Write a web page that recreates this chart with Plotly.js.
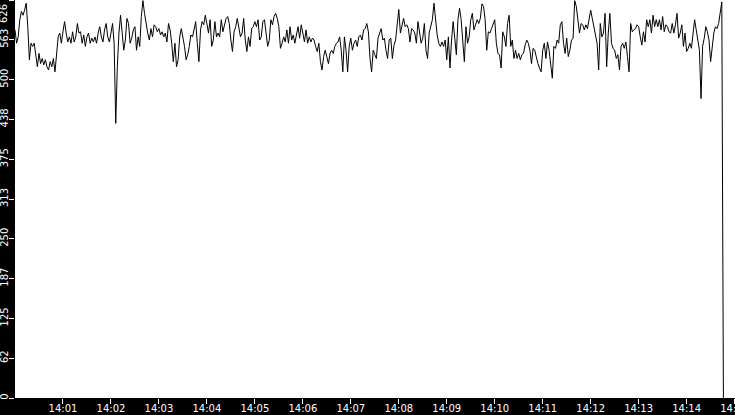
<!DOCTYPE html>
<html>
<head>
<meta charset="utf-8">
<script src="https://cdn.plot.ly/plotly-3.0.1.min.js"></script>
<style>
  html, body { margin: 0; padding: 0; background: #000; }
  #chart { width: 735px; height: 415px; }
</style>
</head>
<body>
<div id="chart"></div>
<script>
// one reading every 2 seconds, starting 14:00:00
const block1400 = [
  579, 558, 568, 595, 608, 602, 610, 621, 584, 532,
  558, 553, 558, 537, 521, 542, 526, 534, 524, 532,
  521, 516, 529, 521, 534, 513, 537, 568, 574, 558,
  576, 592, 574, 560, 568, 558, 576, 560, 568, 589,
  574, 576, 558, 571, 553, 568, 574, 558, 566, 560,
  568, 558, 574, 584, 568, 560, 579, 589, 568, 560,
  574, 589, 558, 432, 521, 574, 602, 579, 547, 563,
  597, 589, 558, 566, 579,
];
// from 14:02:30
const block1402 = [
  584, 547, 568, 553, 600, 625, 605, 587, 574, 563,
  581, 568, 587, 584, 576, 581, 571, 576, 568, 574,
  560, 589, 579, 558, 529, 558, 521, 532, 568, 581,
  568, 553, 532, 540, 553, 571, 568, 579, 592, 558,
  529, 579, 592, 587, 602, 589, 574, 595, 553, 563,
  592, 568, 574, 568, 595, 576, 589, 597, 600, 589,
  563, 545, 576, 584, 597, 581, 568, 574, 597, 563,
  545, 568, 553, 581, 584,
];
// from 14:05:00
const block1405 = [
  592, 584, 595, 563, 568, 592, 595, 568, 553, 563,
  595, 587, 600, 605, 597, 584, 550, 558, 568, 560,
  579, 558, 584, 563, 571, 558, 574, 584, 566, 587,
  574, 560, 579, 558, 568, 560, 566, 563, 553, 545,
  558, 529, 516, 537, 547, 537, 526, 542, 547, 542,
  553, 558, 560, 568, 547, 513, 568, 547, 513, 553,
  566, 547, 558, 563, 553, 568, 571, 563, 579, 581,
  589, 576, 534, 513, 547,
];
// from 14:07:30
const block1407 = [
  540, 534, 566, 574, 581, 563, 566, 547, 534, 563,
  566, 534, 555, 563, 589, 611, 574, 589, 597, 584,
  587, 581, 560, 581, 579, 574, 558, 592, 574, 558,
  566, 589, 547, 534, 574, 584, 595, 621, 589, 571,
  558, 553, 560, 553, 563, 532, 568, 519, 563, 592,
  566, 540, 595, 613, 595, 568, 529, 584, 558, 568,
  595, 605, 579, 587, 595, 589, 597, 620, 616, 595,
  547, 576, 574, 581, 587,
];
// from 14:10:00
const block1410 = [
  595, 558, 542, 540, 519, 576, 568, 553, 589, 602,
  553, 563, 534, 547, 534, 542, 532, 540, 542, 555,
  563, 558, 547, 526, 550, 547, 534, 526, 519, 513,
  547, 558, 534, 560, 547, 521, 503, 553, 550, 563,
  558, 587, 592, 558, 542, 566, 537, 547, 563, 566,
  625, 616, 595, 574, 589, 587, 579, 587, 581, 595,
  610, 597, 584, 568, 558, 516, 589, 568, 574, 605,
  521, 574, 605, 558, 550,
];
// from 14:12:30 until the feed stops
const block1412 = [
  547, 534, 540, 516, 553, 558, 550, 560, 537, 513,
  589, 576, 579, 581, 587, 584, 568, 555, 576, 560,
  595, 584, 595, 574, 602, 584, 595, 584, 595, 579,
  600, 576, 587, 584, 576, 574, 589, 574, 587, 605,
  566, 574, 587, 553, 574, 545, 550, 558, 550, 574,
  595, 579, 566, 547, 471, 553, 566, 584, 576, 563,
  529, 558, 574, 584, 581, 589, 605, 623, 0,
];

const yTickVals = [0, 62.6, 125.2, 187.8, 250.4, 313, 375.6, 438.2, 500.8, 563.4, 626];
const yTickText = ["0", "62", "125", "187", "250", "313", "375", "438", "500", "563", "626"];
const xTickMinutes = ["01", "02", "03", "04", "05", "06", "07", "08", "09", "10", "11", "12", "13", "14", "15"];

const day = "2024-01-01";
const values = [].concat(block1400, block1402, block1405, block1407, block1410, block1412);

function stamp(sec) {
  const m = String(Math.floor(sec / 60)).padStart(2, "0");
  const s = String(sec % 60).padStart(2, "0");
  return `${day} 14:${m}:${s}`;
}

const times = values.map((v, i) => stamp(i * 2));
const tickFont = { family: "DejaVu Sans", size: 10, color: "#ffffff" };

Plotly.newPlot(
  "chart",
  [
    {
      type: "scatter",
      mode: "lines",
      x: times,
      y: values,
      line: { color: "#000000", width: 1 },
      hoverinfo: "skip",
    },
  ],
  {
    width: 735,
    height: 415,
    margin: { l: 15, r: 0, t: 0, b: 17, pad: 0 },
    paper_bgcolor: "#000000",
    plot_bgcolor: "#ffffff",
    showlegend: false,
    xaxis: {
      type: "date",
      range: [`${day} 14:00:00`, `${day} 14:15:00.5`],
      tickvals: xTickMinutes.map((m) => `${day} 14:${m}:00`),
      tickformat: "%H:%M",
      ticks: "outside",
      ticklen: 5,
      tickwidth: 1,
      tickcolor: "#ffffff",
      tickfont: tickFont,
      ticklabelstandoff: -4,
      ticklabeloverflow: "allow",
      showgrid: false,
      zeroline: false,
      showline: false,
    },
    yaxis: {
      range: [0, 626],
      tickvals: yTickVals,
      ticktext: yTickText.map((t, i) => (i === yTickText.length - 1 ? "" : t)),
      tickangle: -90,
      ticks: "outside",
      ticklen: 5,
      tickwidth: 1,
      tickcolor: "#ffffff",
      tickfont: tickFont,
      ticklabelstandoff: -3,
      showgrid: false,
      zeroline: false,
      showline: false,
    },
    annotations: [
      {
        text: yTickText[yTickText.length - 1],
        xref: "paper",
        yref: "paper",
        x: 0,
        y: 1,
        xanchor: "right",
        yanchor: "top",
        xshift: -4,
        yshift: -2,
        textangle: -90,
        showarrow: false,
        font: tickFont,
      },
    ],
  },
  { staticPlot: true, displayModeBar: false }
);
</script>
</body>
</html>
